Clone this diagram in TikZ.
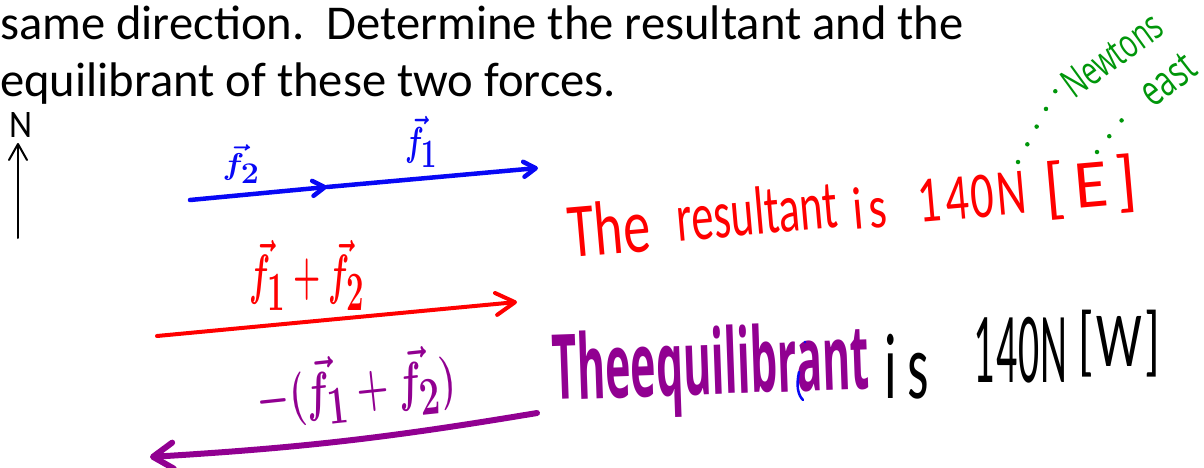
\documentclass[tikz,border=0pt]{standalone}
\usepackage{fontspec}
\setmainfont{Carlito}
\newfontfamily\hand{Open Sans}
\newfontfamily\lighthand{Carlito}
\usetikzlibrary{arrows.meta}
\definecolor{inkred}{RGB}{255,0,0}
\definecolor{inkblue}{RGB}{8,8,245}
\definecolor{inkpurple}{RGB}{145,0,145}
\definecolor{inkgreen}{RGB}{0,150,10}
\newcommand\hwbox[3]{\resizebox*{#1pt}{#2pt}{#3}}
\frenchspacing
\begin{document}
\begin{tikzpicture}[x=1pt,y=-1pt,
  every node/.style={inner sep=0pt,outer sep=0pt},
  printed/.style={anchor=base west,font=\fontsize{48.6}{58}\selectfont},
  hw/.style={anchor=center,font=\lighthand\fontsize{40}{48}\selectfont},
  hwsans/.style={anchor=center,font=\hand\fontsize{40}{48}\selectfont},
  hwbold/.style={anchor=center,font=\hand\bfseries\fontsize{40}{48}\selectfont},
  vec/.style={line cap=round,line join=round},
  bluevec/.style={vec,draw=inkblue,line width=4.5pt,-{Straight Barb[length=12pt 0 0,width=15pt 0 0,round]}},
  redvec/.style={vec,draw=inkred,line width=4pt,-{Straight Barb[length=19pt 0 0,width=22pt 0 0,round]}},
  purplevec/.style={vec,draw=inkpurple,line width=6pt,-{Straight Barb[length=20pt 0 0,width=26pt 0 0,round]}},
  northvec/.style={vec,draw=black,line width=2pt,-{Straight Barb[length=16pt 0 0,width=18pt 0 0,round]}},
  gdots/.style={draw=inkgreen,line width=4.5pt,line cap=round,dash pattern=on 0pt off 20pt}
]
\useasboundingbox (0,0) rectangle (1204,468);
% printed question text
\node[printed] (line1) at (0,40) {same direction.~ Determine the resultant and the};
\node[printed] (line2) at (0,97) {equilibrant of these two forces.};
% north arrow
\coordinate (nS) at (18,238);
\coordinate (nT) at (18,143);
\draw[northvec] (nS) -- (nT);
\node[hw] (nlab) at (21,125) {\hwbox{23}{25}{N}};
% blue vectors
\coordinate (bA) at (190,200);
\coordinate (bB) at (327,187);
\coordinate (bC) at (538,168);
\draw[bluevec] (bA) -- (bB);
\draw[bluevec] (bB) -- (bC);
\node[hw,text=inkblue] (f2lab) at (241,164) {\hwbox{37}{38}{\boldmath$\vec{f}_{2}$}};
\node[hw,text=inkblue] (f1lab) at (421,142) {\hwbox{32}{51}{\boldmath$\vec{f}_{1}$}};
% red resultant
\coordinate (rA) at (157,336);
\coordinate (rB) at (517,302);
\draw[redvec] (rA) -- (rB);
\node[hw,text=inkred] (rlab) at (307,275) {\hwbox{115}{70}{\boldmath$\vec{f}_{1}+\vec{f}_{2}$}};
% purple equilibrant
\coordinate (pA) at (537,413);
\coordinate (pB) at (150,457);
\draw[purplevec] (pA) to[bend left=3] (pB);
\node[hw,text=inkpurple,rotate=6] (plab) at (356,388) {\hwbox{200}{68}{\boldmath$-(\vec{f}_{1}+\vec{f}_{2})$}};
% red sentence
\node[hw,text=inkred,rotate=5] (rw1) at (609,228) {\hwbox{82}{54}{The}};
\node[hw,text=inkred,rotate=5] (rw2) at (757,211) {\hwbox{161}{48}{resultant}};
\node[hw,text=inkred,rotate=5] (rw3) at (870,208) {\hwbox{34}{42}{i\kern0.12em s}};
\node[hw,text=inkred,rotate=5] (rw4) at (972,197) {\hwbox{109}{43}{1\kern0.1em 4\kern0.05em 0\kern0.05em N}};
\node[hw,text=inkred,rotate=5] (rw5) at (1091,187) {\hwbox{92}{59}{[\kern0.12em E\kern0.12em]}};
% green annotations
\coordinate (g1a) at (1018,162);
\coordinate (g1b) at (1057,88);
\coordinate (g2a) at (1097,152);
\coordinate (g2b) at (1132,107);
\draw[gdots] (g1a) -- (g1b);
\draw[gdots] (g2a) -- (g2b);
\node[hwsans,text=inkgreen,rotate=36] (newtons) at (1112,55) {\hwbox{114}{29}{Newtons}};
\node[hwsans,text=inkgreen,rotate=38] (east) at (1168,80) {\hwbox{58}{29}{east}};
% purple / black sentence
\node[hwbold,text=inkpurple,rotate=2] (pw1) at (711,371) {\hwbox{317}{90}{Theequilibrant}};
\draw[inkblue,line width=2.5pt,line cap=round] (799,372) .. controls (796,386) and (798,395) .. (803,400);
\fill[inkblue] (805,342) circle (1.4);
\node[hw] (bw1) at (907,367) {\hwbox{45}{65}{i\kern0.2em s}};
\node[hw] (bw2) at (1020,350) {\hwbox{94}{66}{1\kern0.05em 4\kern0.02em 0\kern0.02em N}};
\node[hw] (bw3) at (1119,344) {\hwbox{82}{67}{[\kern0.05em W\kern0.05em]}};
\end{tikzpicture}
\end{document}
